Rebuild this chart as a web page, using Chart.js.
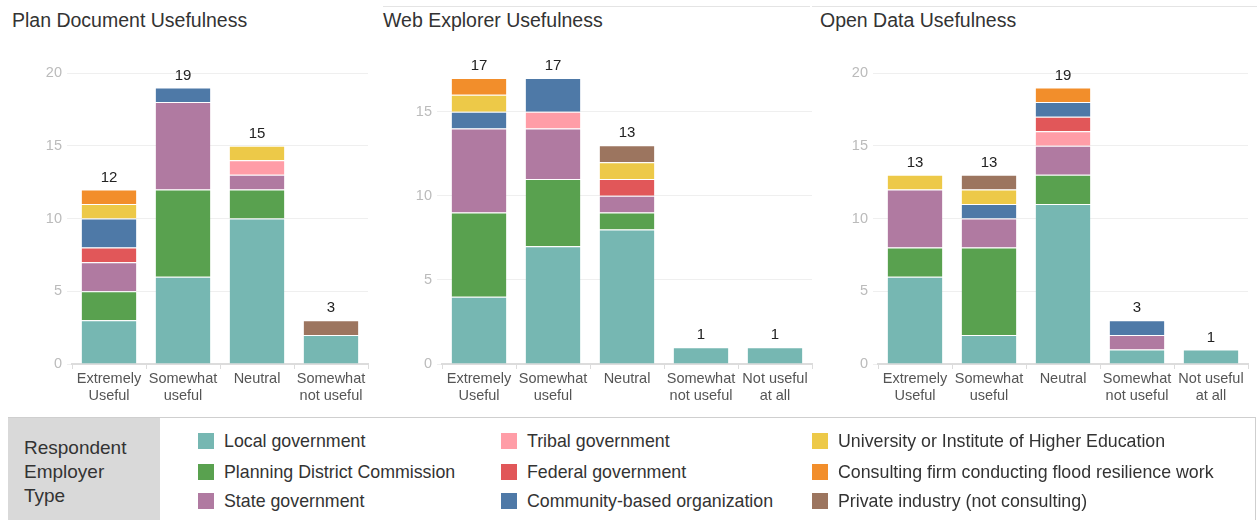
<!DOCTYPE html>
<html>
<head>
<meta charset="utf-8">
<script src="https://cdn.jsdelivr.net/npm/chart.js@4.4.1/dist/chart.umd.min.js"></script>
<style>
  body { margin: 0; background: #fff; font-family: "Liberation Sans", Arial, sans-serif; }
  #page { position: relative; width: 1257px; height: 520px; overflow: hidden; }
  .panel { position: absolute; top: 0; height: 415px; }
  .title { position: absolute; top: 9px; font-size: 19.5px; color: #333; white-space: nowrap; }
  .topline { position: absolute; top: 6px; height: 0; border-top: 1px solid #e4e4e4; }
  #legend { position: absolute; left: 8px; top: 417px; width: 1247px; height: 103px;
            border-top: 1px solid #cfcfcf; border-right: 1px solid #cfcfcf; }
  #legendHead { position: absolute; left: 0; top: 0; width: 152px; height: 103px; background: #d9d9d9;
                color: #333; font-size: 19px; line-height: 24px; padding: 18px 0 0 16px; box-sizing: border-box; }
  .item { position: absolute; font-size: 17.8px; color: #333; white-space: nowrap; line-height: 18px; }
  .item i { position: absolute; left: -26px; top: 1px; width: 16px; height: 16px; }
</style>
</head>
<body>
<div id="page">
  <div class="topline" style="left:383px; width:427px"></div>
  <div class="topline" style="left:812px; width:445px"></div>
  <div class="title" style="left:12px">Plan Document Usefulness</div>
  <div class="title" style="left:383px">Web Explorer Usefulness</div>
  <div class="title" style="left:820px">Open Data Usefulness</div>
  <div class="panel" style="left:0px; width:380px"><canvas id="planChart" width="380" height="415"></canvas></div>
  <div class="panel" style="left:370px; width:450px"><canvas id="webChart" width="450" height="415"></canvas></div>
  <div class="panel" style="left:800px; width:457px"><canvas id="openChart" width="457" height="415"></canvas></div>
  <div id="legend"><div id="legendHead">Respondent<br>Employer<br>Type</div></div>
</div>
<script>
const employerTypes = ['Local government', 'Planning District Commission', 'State government',
  'Tribal government', 'Federal government', 'Community-based organization',
  'University or Institute of Higher Education', 'Consulting firm conducting flood resilience work',
  'Private industry (not consulting)'];
const employerColors = ['#76B7B2', '#59A14F', '#B07AA1', '#FF9DA7', '#E15759', '#4E79A7', '#EDC948', '#F28E2B', '#9C755F'];

const planCategories = [['Extremely', 'Useful'], ['Somewhat', 'useful'], 'Neutral', ['Somewhat', 'not useful']];
const fiveCategories = [['Extremely', 'Useful'], ['Somewhat', 'useful'], 'Neutral', ['Somewhat', 'not useful'], ['Not useful', 'at all']];

// one row per employer type, in the order of employerTypes
const planData = [
  [3, 6, 10, 2],
  [2, 6, 2, 0],
  [2, 6, 1, 0],
  [0, 0, 1, 0],
  [1, 0, 0, 0],
  [2, 1, 0, 0],
  [1, 0, 1, 0],
  [1, 0, 0, 0],
  [0, 0, 0, 1]
];
const webData = [
  [4, 7, 8, 1, 1],
  [5, 4, 1, 0, 0],
  [5, 3, 1, 0, 0],
  [0, 1, 0, 0, 0],
  [0, 0, 1, 0, 0],
  [1, 2, 0, 0, 0],
  [1, 0, 1, 0, 0],
  [1, 0, 0, 0, 0],
  [0, 0, 1, 0, 0]
];
const openData = [
  [6, 2, 11, 1, 1],
  [2, 6, 2, 0, 0],
  [4, 2, 2, 1, 0],
  [0, 0, 1, 0, 0],
  [0, 0, 1, 0, 0],
  [0, 1, 1, 1, 0],
  [1, 1, 0, 0, 0],
  [0, 0, 1, 0, 0],
  [0, 1, 0, 0, 0]
];

const fontFamily = '"Liberation Sans", Arial, sans-serif';

const totalsPlugin = {
  id: 'totals',
  afterDatasetsDraw(chart) {
    const ctx = chart.ctx;
    const xs = chart.scales.x, ys = chart.scales.y;
    const n = chart.data.labels.length;
    ctx.save();
    ctx.font = '15px ' + fontFamily;
    ctx.fillStyle = '#222';
    ctx.textAlign = 'center';
    ctx.textBaseline = 'middle';
    for (let i = 0; i < n; i++) {
      let sum = 0;
      chart.data.datasets.forEach(ds => { sum += ds.data[i] || 0; });
      ctx.fillText(String(sum), xs.getPixelForValue(i), ys.getPixelForValue(sum) - 12);
    }
    ctx.restore();
  }
};

function makeStackChart(canvasId, labels, rows, yMax, yWidth, rightPad) {
  return new Chart(document.getElementById(canvasId), {
    type: 'bar',
    data: {
      labels,
      datasets: rows.map((row, k) => ({
        label: employerTypes[k],
        data: row.map(v => v === 0 ? null : v),
        backgroundColor: employerColors[k],
        borderColor: 'rgba(255,255,255,0.9)',
        borderWidth: { top: 1, left: 0, right: 0, bottom: 0 },
        borderSkipped: false,
        barPercentage: 1,
        categoryPercentage: 0.74
      }))
    },
    options: {
      responsive: false,
      animation: false,
      layout: { padding: { top: 73, right: rightPad, left: 0, bottom: 0 } },
      plugins: { legend: { display: false }, tooltip: { enabled: false } },
      scales: {
        x: {
          stacked: true,
          afterFit(scale) { scale.height = 51; },
          grid: { drawOnChartArea: false, tickLength: 5, color: '#dcdcdc' },
          border: { color: '#dcdcdc', width: 2 },
          ticks: { color: '#555', padding: 1, maxRotation: 0, autoSkip: false,
                   font: { family: fontFamily, size: 14.5, lineHeight: 1.2 } }
        },
        y: {
          stacked: true,
          min: 0,
          max: yMax,
          afterFit(scale) { scale.width = yWidth; },
          afterBuildTicks(scale) { scale.ticks = scale.ticks.filter(t => t.value % 5 === 0); },
          grid: { color: '#efefef', tickLength: 5 },
          border: { display: false },
          ticks: { stepSize: 5, color: '#bbb', padding: 5, font: { family: fontFamily, size: 14.5 } }
        }
      }
    },
    plugins: [totalsPlugin]
  });
}

makeStackChart('planChart', planCategories, planData, 20, 72, 12);
makeStackChart('webChart', fiveCategories, webData, 17.3, 72, 8);
makeStackChart('openChart', fiveCategories, openData, 20, 78, 9);

// shared legend, three columns of three
const legendEl = document.getElementById('legend');
const colX = [216, 519, 830];
const rowY = [14, 45, 74];
employerTypes.forEach((name, k) => {
  const d = document.createElement('div');
  d.className = 'item';
  d.style.left = colX[Math.floor(k / 3)] + 'px';
  d.style.top = rowY[k % 3] + 'px';
  d.innerHTML = '<i style="background:' + employerColors[k] + '"></i>' + name;
  legendEl.appendChild(d);
});
</script>
</body>
</html>
